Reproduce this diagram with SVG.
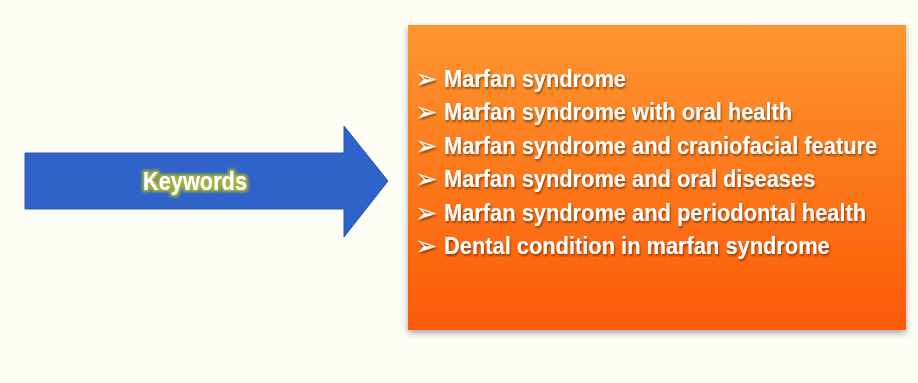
<svg xmlns="http://www.w3.org/2000/svg" width="918" height="383" viewBox="0 0 918 383">
<defs>
<linearGradient id="boxGrad" x1="0" y1="0" x2="0" y2="1">
<stop offset="0" stop-color="#FD9630"/>
<stop offset="1" stop-color="#FC5A06"/>
</linearGradient>
<filter id="boxShadow" x="-5%" y="-5%" width="110%" height="115%">
<feGaussianBlur in="SourceAlpha" stdDeviation="3"/>
<feOffset dx="0" dy="3" result="b"/>
<feComponentTransfer><feFuncA type="linear" slope="0.35"/></feComponentTransfer>
<feMerge><feMergeNode/><feMergeNode in="SourceGraphic"/></feMerge>
</filter>
<filter id="glow" x="-20%" y="-40%" width="140%" height="180%">
<feMorphology in="SourceAlpha" operator="dilate" radius="2" result="d"/>
<feGaussianBlur in="d" stdDeviation="1.5" result="bl"/>
<feFlood flood-color="#A5B535"/>
<feComposite in2="bl" operator="in" result="g"/>
<feMerge><feMergeNode in="g"/><feMergeNode in="SourceGraphic"/></feMerge>
</filter>
<filter id="txtShadow" filterUnits="userSpaceOnUse" x="400" y="50" width="510" height="230">
<feGaussianBlur in="SourceAlpha" stdDeviation="1"/>
<feOffset dx="1" dy="1.5"/>
<feComponentTransfer><feFuncA type="linear" slope="0.45"/></feComponentTransfer>
<feMerge><feMergeNode/><feMergeNode in="SourceGraphic"/></feMerge>
</filter>
</defs>
<style>
.item{font-family:"Liberation Sans",Arial,sans-serif;font-weight:bold;font-size:24px;fill:#FFFFFF;}
.bul{font-family:"DejaVu Sans",sans-serif;font-size:27px;fill:#FFFFFF;}
.kw{font-family:"Liberation Sans",Arial,sans-serif;font-weight:bold;font-size:25px;fill:#FFFFFF;}
</style>
<rect x="0" y="0" width="918" height="383" fill="#FDFDF5"/>
<g id="connectors"></g>
<g id="keywords-arrow">
<polygon points="25,153 344,153 344,126 388,181 344,237 344,209 25,209" fill="#2F63C9" stroke="#2A56AE" stroke-width="1"/>
<text class="kw" x="195" y="190" text-anchor="middle" textLength="104" lengthAdjust="spacingAndGlyphs" filter="url(#glow)">Keywords</text>
</g>
<g id="keyword-list">
<rect x="408" y="25" width="498" height="305" fill="url(#boxGrad)" filter="url(#boxShadow)"/>
<g filter="url(#txtShadow)">
<text class="bul" x="415" y="88">➢</text>
<text class="bul" x="415" y="121">➢</text>
<text class="bul" x="415" y="155">➢</text>
<text class="bul" x="415" y="188">➢</text>
<text class="bul" x="415" y="222">➢</text>
<text class="bul" x="415" y="255">➢</text>
<g transform="translate(444,0) scale(0.91,1)">
<text class="item" x="0" y="87">Marfan syndrome</text>
<text class="item" x="0" y="120">Marfan syndrome with oral health</text>
<text class="item" x="0" y="154">Marfan syndrome and craniofacial feature</text>
<text class="item" x="0" y="187">Marfan syndrome and oral diseases</text>
<text class="item" x="0" y="221">Marfan syndrome and periodontal health</text>
<text class="item" x="0" y="254">Dental condition in marfan syndrome</text>
</g>
</g>
</g>
</svg>
